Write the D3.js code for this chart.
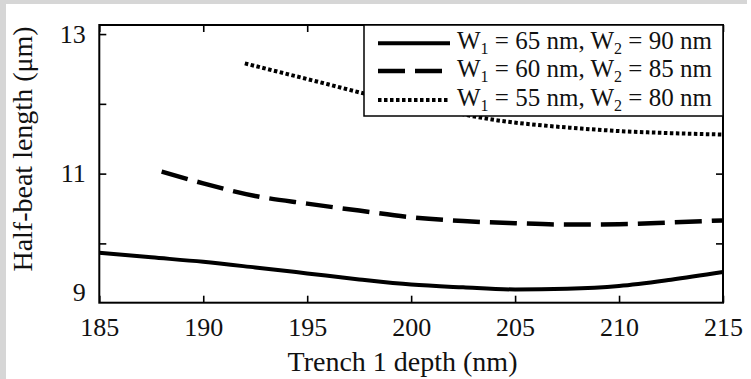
<!DOCTYPE html>
<html>
<head>
<meta charset="utf-8">
<script src="https://cdn.jsdelivr.net/npm/d3@7/dist/d3.min.js"></script>
<style>
  html, body { margin: 0; padding: 0; background: #fff; }
  svg { display: block; }
  svg text { font-family: "Liberation Serif", "Times New Roman", Tinos, "DejaVu Serif", serif; }
</style>
</head>
<body>
<svg id="chart" width="751" height="379"></svg>
<script>
// data
var xTicks = [185, 190, 195, 200, 205, 210, 215];
var yTicks = [10, 11, 12, 13];
var yLabelText = ["13", "11", "9"];
var yLabelAt = [13, 11, 9.3];   // the "9" sits just above the bottom frame

var depthA = [185, 187.5, 190, 192.5, 195, 197.5, 200, 202.5, 205, 207.5, 210, 212.5, 215];
var beatA  = [9.865, 9.80, 9.736, 9.655, 9.57, 9.484, 9.41, 9.37, 9.34, 9.35, 9.39, 9.48, 9.59];

var depthB = [188, 190, 192.5, 195, 197.5, 200, 202.5, 205, 207.5, 210, 212.5, 215];
var beatB  = [11.03, 10.86, 10.68, 10.57, 10.47, 10.375, 10.32, 10.29, 10.27, 10.275, 10.30, 10.33];

var depthC = [192, 194, 196, 198, 200, 202, 204, 206, 208, 210, 212.5, 215];
var beatC  = [12.58, 12.43, 12.28, 12.13, 12.01, 11.88, 11.77, 11.70, 11.65, 11.61, 11.58, 11.56];

var legendW1 = ["65", "60", "55"];
var legendW2 = ["90", "85", "80"];
var dashes = [null, "27,10", "3.5,2.5"];

var svg = d3.select("#chart");

// grey edge of the screenshot
svg.append("rect").attr("x", 0).attr("y", 0).attr("width", 747).attr("height", 4).attr("fill", "#d6d6d6");
svg.append("rect").attr("x", 0).attr("y", 0).attr("width", 6).attr("height", 379).attr("fill", "#d6d6d6");

var pLeft = 99.3, pRight = 723, pTop = 25, pBottom = 302.7;

var x = d3.scaleLinear().domain([185, 215]).range([pLeft, pRight]);
var y = d3.scaleLinear().domain([9.15, 13.13]).range([pBottom, pTop]);

var g = svg.append("g");

// lines
var line = d3.line()
	.x(function(d){ return x(d[0]); })
	.y(function(d){ return y(d[1]); })
	.curve(d3.curveMonotoneX);

var series = [d3.zip(depthA, beatA), d3.zip(depthB, beatB), d3.zip(depthC, beatC)];
var widths = [4, 4.5, 4];

g.selectAll("path.series").data(series).enter().append("path")
	.attr("class", "series")
	.attr("d", line)
	.attr("fill", "none")
	.attr("stroke", "#000")
	.attr("stroke-width", function(d, i){ return widths[i]; })
	.attr("stroke-dasharray", function(d, i){ return dashes[i]; });

// inward ticks on all four sides
function noLabel(){ return ""; }
function tidy(a){
	a.select(".domain").remove();
	a.selectAll("line").attr("stroke-width", 1.6);
	a.attr("font-family", null);
}
g.append("g").attr("transform", "translate(0," + pBottom + ")")
	.call(d3.axisBottom(x).tickValues(xTicks).tickSizeInner(-7).tickSizeOuter(0).tickPadding(14.5))
	.call(tidy)
	.call(function(a){
		a.selectAll("text").attr("font-size", 26).attr("fill", "#111");
	});
g.append("g").attr("transform", "translate(0," + pTop + ")")
	.call(d3.axisTop(x).tickValues(xTicks).tickSizeInner(-7).tickSizeOuter(0).tickFormat(noLabel))
	.call(tidy);
g.append("g").attr("transform", "translate(" + pLeft + ",0)")
	.call(d3.axisLeft(y).tickValues(yTicks).tickSizeInner(-7).tickSizeOuter(0).tickFormat(noLabel))
	.call(tidy);
g.append("g").attr("transform", "translate(" + pRight + ",0)")
	.call(d3.axisRight(y).tickValues(yTicks).tickSizeInner(-7).tickSizeOuter(0).tickFormat(noLabel))
	.call(tidy);

// y labels
g.selectAll("text.ylab").data(yLabelText).enter().append("text")
	.attr("class", "ylab")
	.attr("x", pLeft - 13.5)
	.attr("y", function(d, i){ return y(yLabelAt[i]); })
	.attr("dy", "0.33em")
	.attr("text-anchor", "end")
	.attr("font-size", 26)
	.attr("fill", "#111")
	.text(function(d){ return d; });

// frame
g.append("rect")
	.attr("x", pLeft).attr("y", pTop)
	.attr("width", pRight - pLeft).attr("height", pBottom - pTop)
	.attr("fill", "none").attr("stroke", "#000").attr("stroke-width", 2);

// axis titles
svg.append("text")
	.attr("x", 402.5).attr("y", 371)
	.attr("text-anchor", "middle")
	.attr("font-size", 28)
	.attr("fill", "#111")
	.text("Trench 1 depth (nm)");

svg.append("text")
	.attr("transform", "translate(32,149) rotate(-90)")
	.attr("text-anchor", "middle")
	.attr("font-size", 28)
	.attr("fill", "#111")
	.text("Half-beat length (\u03bcm)");

// legend
var leg = svg.append("g");
leg.append("rect")
	.attr("x", 364).attr("y", pTop)
	.attr("width", pRight - 364).attr("height", 91)
	.attr("fill", "#fff").attr("stroke", "#000").attr("stroke-width", 1.5);

var rowY = [43.3, 71, 100];
var rows = leg.selectAll("g.row").data(legendW1).enter().append("g")
	.attr("class", "row")
	.attr("transform", function(d, i){ return "translate(0," + rowY[i] + ")"; });

rows.append("line")
	.attr("x1", 378).attr("x2", 450)
	.attr("stroke", "#000")
	.attr("stroke-width", function(d, i){ return widths[i]; })
	.attr("stroke-dasharray", function(d, i){ return dashes[i]; });

var txt = rows.append("text")
	.attr("x", 457).attr("y", 6)
	.attr("font-size", 25)
	.attr("fill", "#111");
txt.append("tspan").text("W");
txt.append("tspan").attr("font-size", 16).attr("dy", 5).text("1");
txt.append("tspan").attr("dy", -5).text(function(d){ return " = " + d + " nm, W"; });
txt.append("tspan").attr("font-size", 16).attr("dy", 5).text("2");
txt.append("tspan").attr("dy", -5).text(function(d, i){ return " = " + legendW2[i] + " nm"; });
</script>
</body>
</html>
